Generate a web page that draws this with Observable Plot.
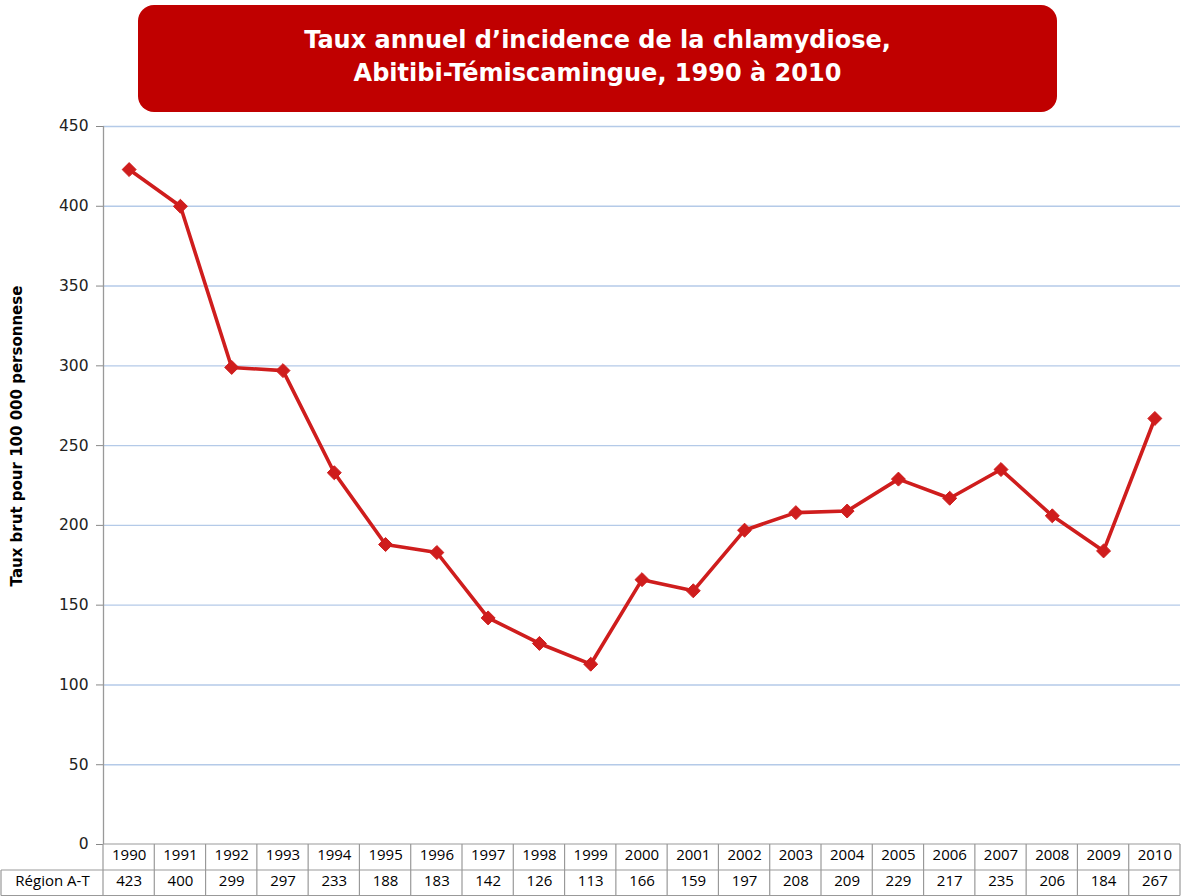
<!DOCTYPE html>
<html>
<head>
<meta charset="utf-8">
<script src="https://cdn.jsdelivr.net/npm/d3@7"></script>
<script src="https://cdn.jsdelivr.net/npm/@observablehq/plot@0.6"></script>
<style>
  html, body { margin: 0; padding: 0; background: #fff; }
  #wrap { position: relative; width: 1185px; height: 896px; overflow: hidden; }
  #title {
    position: absolute; left: 138px; top: 5px; width: 919px; height: 107px;
    background: #C00000; border-radius: 16px; color: #fff;
    font-family: "DejaVu Sans", sans-serif; font-weight: bold; font-size: 24px;
    line-height: 33px; text-align: center; display: flex; flex-direction: column;
    justify-content: center; box-sizing: border-box; padding-bottom: 4px;
  }
  #ylabel {
    position: absolute; left: 17px; top: 436px; transform: translate(-50%, -50%) rotate(-90deg);
    white-space: nowrap; font-family: "DejaVu Sans", sans-serif; font-weight: bold; font-size: 15px; color: #000;
  }
  #chart { position: absolute; left: 0; top: 0; }
</style>
</head>
<body>
<div id="wrap">
  <div id="chart"></div>
  <div id="title"><div>Taux annuel d’incidence de la chlamydiose,</div><div>Abitibi-Témiscamingue, 1990 à 2010</div></div>
  <div id="ylabel">Taux brut pour 100 000 personnese</div>
</div>
<script>
const years = [1990,1991,1992,1993,1994,1995,1996,1997,1998,1999,2000,2001,2002,2003,2004,2005,2006,2007,2008,2009,2010];
const rates = [423,400,299,297,233,188,183,142,126,113,166,159,197,208,209,229,217,235,206,184,267];
const seriesLabel = "Région A-T";
const yTicks = [0,50,100,150,200,250,300,350,400,450];

const data = years.map((y, i) => ({year: y, rate: rates[i]}));
const lineColor = "#CF1D1D";
const tableFont = "'Open Sans', sans-serif";
const tableSize = 15;

const plot = Plot.plot({
  width: 1185,
  height: 896,
  marginTop: 126,
  marginBottom: 52,
  marginLeft: 103,
  marginRight: 5,
  style: {fontFamily: "'DejaVu Sans', sans-serif", background: "transparent", overflow: "visible"},
  x: {type: "linear", domain: [years[0] - 0.5, years[years.length - 1] + 0.5], axis: null},
  y: {domain: [0, 450], axis: null, label: null},
  marks: [
    Plot.gridY(yTicks.filter(d => d > 0), {stroke: "#B4CAE8", strokeOpacity: 1, strokeWidth: 1.4}),
    Plot.axisY(yTicks, {label: null, tickSize: 7, tickPadding: 8, fontSize: 15.5, stroke: "#888", color: "#222", fill: "#222"}),
    Plot.ruleX([years[0] - 0.5], {stroke: "#999", strokeWidth: 1.3}),
    Plot.line(data, {x: "year", y: "rate", stroke: lineColor, strokeWidth: 3.6, strokeLinejoin: "round"}),
    Plot.dot(data, {x: "year", y: "rate", symbol: "diamond2", r: 6.3, fill: lineColor, stroke: lineColor, strokeWidth: 1}),
    Plot.text(years, {x: d => d, frameAnchor: "bottom", dy: 15.5, text: d => String(d), fontSize: tableSize, fill: "#000", fontFamily: tableFont}),
    Plot.text(data, {x: "year", frameAnchor: "bottom", dy: 41.5, text: d => String(d.rate), fontSize: tableSize, fill: "#000", fontFamily: tableFont}),
    Plot.text([seriesLabel], {frameAnchor: "bottom-left", textAnchor: "middle", dx: -51, dy: 41.5, text: d => d, fontSize: tableSize, fill: "#000", fontFamily: tableFont})
  ]
});

// table grid lines, positioned through the plot's own x scale
const xs = plot.scale("x");
const svgSel = d3.select(plot);
const g = svgSel.append("g").attr("stroke", "#999").attr("stroke-width", 1.2).attr("fill", "none");
const rowTop = 844, rowMid = 870, rowBot = 895.5;
const edges = years.map(y => y - 0.5).concat([years[years.length - 1] + 0.5]);
const xa = xs.apply(edges[0]), xb = xs.apply(edges[edges.length - 1]);
g.append("line").attr("x1", xa).attr("x2", xb).attr("y1", rowTop).attr("y2", rowTop);
g.append("line").attr("x1", 1).attr("x2", xb).attr("y1", rowMid).attr("y2", rowMid);
g.append("line").attr("x1", 1).attr("x2", xb).attr("y1", rowBot).attr("y2", rowBot);
g.append("line").attr("x1", 1).attr("x2", 1).attr("y1", rowMid).attr("y2", rowBot);
edges.forEach(e => {
  const x = xs.apply(e);
  g.append("line").attr("x1", x).attr("x2", x).attr("y1", rowTop).attr("y2", rowBot);
});

document.getElementById("chart").appendChild(plot);
</script>
</body>
</html>
